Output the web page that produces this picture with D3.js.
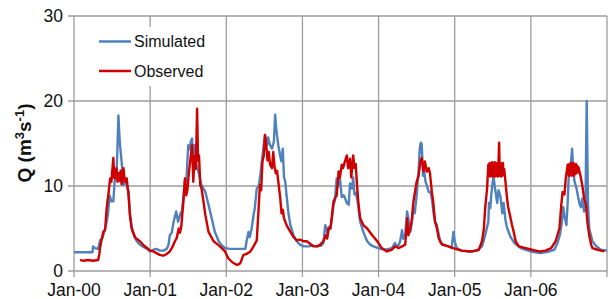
<!DOCTYPE html>
<html><head><meta charset="utf-8">
<script src="https://cdn.jsdelivr.net/npm/d3@7"></script>
<style>body{margin:0;background:#fff}svg{display:block}text{font-family:"Liberation Sans",Arial,Helvetica,sans-serif}</style>
</head><body><svg id="c" width="610" height="299"></svg>
<script>
// months since Jan 2000
const yTicks=[0,10,20,30];
const xTickMonths=[0,12,24,36,48,60,72];
const xTickLabels=["Jan-00","Jan-01","Jan-02","Jan-03","Jan-04","Jan-05","Jan-06"];
const gridMonths=[0,12,24,36,48,60,72,84];
const seriesNames=["Simulated","Observed"];
const seriesColors=["#4f81bd","#d00000"];
const simM=[0,1,2,2.9,3.0,3.3,3.8,4.1,4.5,4.9,5.15,5.4,5.6,5.9,6.2,6.4,6.7,6.85,7.0,7.15,7.25,7.5,7.8,8.1,8.4,8.6,8.8,9.1,9.6,10.0,10.4,11.0,11.5,12.0,12.5,13.0,13.5,14.1,14.6,14.9,15.1,15.4,15.7,16.1,16.4,16.8,17.0,17.3,17.5,17.7,18.0,18.2,18.4,18.6,18.8,19.0,19.3,19.6,20.1,20.7,21.2,21.7,22.2,22.8,23.3,23.8,24.5,25.4,26.2,27.0,27.2,27.5,27.7,28.0,28.3,28.5,28.8,29.1,29.4,29.6,29.9,30.1,30.4,30.6,30.9,31.2,31.5,31.7,31.9,32.2,32.5,32.7,32.9,33.1,33.3,33.5,33.8,34.1,34.6,35.1,35.6,36.2,37.0,37.5,38.3,39.0,39.3,39.6,39.8,40.0,40.2,40.4,40.6,40.9,41.1,41.4,41.6,41.9,42.2,42.5,42.7,43.0,43.3,43.5,43.8,44.0,44.2,44.4,44.7,45.1,45.6,46.2,46.7,47.2,48.3,49.1,50.1,50.6,50.8,51.2,51.4,51.7,51.9,52.2,52.5,52.7,53.0,53.3,53.5,53.7,54.0,54.3,54.5,54.65,54.8,55.0,55.2,55.4,55.6,55.9,56.2,56.4,56.7,56.9,57.2,57.5,57.8,58.3,59.0,59.5,59.8,60.0,60.3,61.1,62.0,62.7,63.5,64.3,64.8,65.3,65.4,65.6,65.8,66.1,66.4,66.7,66.9,67.2,67.5,67.7,68.0,68.2,68.8,69.4,70.4,71.2,72.0,73.5,74.9,75.7,76.2,76.6,76.9,77.1,77.3,77.6,77.8,78.0,78.3,78.5,78.7,78.9,79.2,79.4,79.7,79.9,80.1,80.4,80.6,80.8,81.0,81.2,81.7,82.2,83.0,84.0];
const simQ=[2.2,2.2,2.2,2.2,2.9,2.7,2.6,3.6,3.9,5.0,5.8,7.0,8.9,8.2,8.2,10.5,11.3,14.5,18.3,16.0,14.8,12.9,10.1,10.7,9.8,9.3,7.0,5.0,3.9,3.4,3.1,2.8,2.6,2.3,2.5,2.6,2.4,2.4,2.6,3.1,4.2,4.5,5.8,7.0,5.8,6.8,7.0,9.0,10.9,10.5,14.8,14.3,15.2,15.6,12.9,14.8,12.5,11.7,10.1,9.3,7.8,6.2,4.6,3.5,3.0,2.7,2.6,2.6,2.6,2.6,3.5,4.6,4.0,5.0,6.6,7.4,9.7,9.9,11.5,12.9,14.8,16.0,14.8,15.7,14.8,14.4,15.2,18.4,16.5,14.8,13.5,12.9,14.4,11.0,10.5,8.9,6.8,5.4,4.2,3.5,3.1,2.9,2.9,3.0,2.9,3.0,3.3,5.4,5.0,4.2,5.2,5.0,5.8,7.8,8.2,10.9,9.9,11.0,8.7,8.9,8.6,8.0,7.8,10.3,9.7,11.0,9.0,9.2,8.2,5.8,4.6,3.5,3.1,2.9,2.6,2.5,2.7,3.3,2.9,3.1,3.5,4.8,3.8,4.2,7.0,6.2,4.6,6.0,7.4,6.8,8.9,11.7,14.5,15.1,14.9,11.2,11.7,10.5,10.1,9.3,9.3,8.5,6.6,5.8,5.4,4.2,3.3,3.1,2.9,2.7,4.6,3.5,2.7,2.4,2.3,2.3,2.4,2.9,4.2,5.8,8.0,7.4,9.3,11.1,9.5,8.0,9.5,8.8,6.8,8.0,6.0,5.2,4.0,3.3,2.7,2.5,2.3,2.1,2.3,2.5,3.3,4.3,5.8,7.5,6.5,5.4,8.0,11.7,12.5,14.4,11.5,10.5,9.7,8.9,7.8,7.5,8.5,7.0,7.2,20.0,8.0,5.0,3.5,3.0,2.5,2.4];
const obsM=[0.95,1.5,2.2,3.0,3.8,4.0,4.1,4.3,4.5,4.6,4.9,5.15,5.4,5.7,5.9,6.0,6.2,6.35,6.5,6.7,6.85,7.0,7.2,7.35,7.5,7.65,7.8,8.0,8.3,8.6,8.8,9.1,9.6,10.0,10.4,11.0,11.5,12.0,12.5,13.0,13.5,14.1,14.6,15.1,15.5,15.9,16.2,16.5,16.7,16.9,17.2,17.5,17.7,17.9,18.1,18.3,18.6,18.8,19.0,19.2,19.4,19.55,19.7,19.9,20.1,20.4,20.7,21.2,22.0,23.0,23.8,24.3,25.0,25.7,26.2,26.7,27.2,27.8,28.3,28.8,29.1,29.3,29.5,29.7,29.9,30.1,30.3,30.5,30.7,30.9,31.2,31.4,31.6,31.8,32.0,32.2,32.5,32.7,32.9,33.1,33.5,34.1,34.6,35.1,35.6,36.2,36.7,37.2,37.7,38.3,38.8,39.3,39.7,39.9,40.1,40.4,40.6,40.9,41.1,41.4,41.7,41.9,42.2,42.4,42.7,43.0,43.2,43.5,43.7,44.0,44.2,44.4,44.6,44.8,45.1,45.6,46.2,47.0,47.8,48.5,49.3,50.1,50.6,51.2,51.7,52.2,52.5,52.7,53.0,53.2,53.5,54.0,54.3,54.6,54.8,55.1,55.3,55.6,55.9,56.1,56.4,56.6,56.9,57.2,57.5,58.0,59.0,60.1,61.1,62.7,63.8,64.3,64.6,64.8,65.1,65.3,65.4,65.5,65.6,65.7,65.8,65.9,66.0,66.1,66.2,66.3,66.4,66.5,66.6,66.7,66.8,66.9,67.0,67.1,67.2,67.3,67.4,67.5,67.6,67.7,67.8,68.0,68.2,68.4,68.7,69.0,69.3,69.6,70.1,71.2,72.2,73.3,74.3,75.2,75.9,76.5,76.8,77.0,77.3,77.5,77.8,78.0,78.1,78.2,78.3,78.4,78.5,78.6,78.7,78.8,78.9,79.0,79.1,79.2,79.3,79.4,79.5,79.6,79.8,80.1,80.4,80.7,80.9,81.2,81.5,81.7,82.5,83.6,84.0];
const obsQ=[1.3,1.2,1.3,1.2,1.3,2.0,2.7,3.5,4.2,4.6,4.8,7.4,8.9,10.9,10.5,11.5,13.3,10.9,11.0,12.1,10.5,11.5,10.6,11.8,10.2,11.2,12.1,10.5,10.9,8.9,6.6,5.0,4.0,3.7,3.5,3.0,2.7,2.4,2.3,2.1,1.9,1.8,2.0,2.3,2.8,3.5,3.9,5.0,4.5,5.2,7.8,10.9,8.9,9.7,11.5,12.9,14.8,10.5,13.5,12.0,19.1,13.0,13.6,10.1,9.7,8.2,6.6,4.6,3.5,2.9,2.3,1.5,1.0,0.7,0.9,1.9,2.0,2.3,2.9,3.6,7.4,10.1,9.5,12.9,13.5,16.0,14.8,13.0,14.0,12.5,12.1,14.0,12.3,11.5,11.8,10.5,8.6,6.8,7.2,6.2,5.4,4.6,4.0,3.6,3.7,3.5,3.5,3.2,2.9,2.9,3.1,3.5,4.2,3.8,5.0,5.0,6.2,8.2,8.5,8.9,11.7,11.0,12.5,12.1,12.9,13.6,12.1,13.2,11.0,13.6,12.1,12.6,10.1,8.2,6.2,5.4,5.0,4.2,3.5,2.7,2.3,2.5,2.9,2.7,2.9,3.1,6.2,4.2,5.0,5.8,8.2,10.5,11.2,12.9,13.3,11.7,12.9,11.7,12.1,11.5,9.3,8.2,5.8,5.0,3.8,3.1,2.9,2.6,2.4,2.3,2.5,3.5,5.0,7.4,9.7,12.5,11.2,12.7,11.1,12.6,11.2,12.8,11.1,12.6,11.2,12.8,11.1,12.7,11.2,12.6,11.1,12.8,15.1,11.2,12.7,11.1,12.6,11.2,12.7,11.3,12.0,10.5,8.9,7.6,6.6,5.5,4.6,3.5,2.9,2.7,2.5,2.3,2.4,2.7,3.5,5.0,7.8,9.3,9.0,10.9,12.5,11.2,12.6,11.3,12.7,11.2,12.6,11.3,12.7,11.2,12.5,11.4,12.6,11.5,12.4,11.6,12.2,11.9,11.3,10.1,8.5,7.8,5.8,4.2,3.1,2.7,2.5,2.3];

const svg=d3.select("#c");
const x=d3.scaleLinear().domain([0,84]).range([74,607]);
const y=d3.scaleLinear().domain([0,30]).range([271,16]);
const gridCol="#9c9c9c";

svg.append("g").selectAll("line").data(yTicks).join("line")
  .attr("x1",68).attr("x2",x(84)).attr("y1",d=>y(d)).attr("y2",d=>y(d))
  .attr("stroke",gridCol).attr("stroke-width",1.3);
svg.append("g").selectAll("line").data(gridMonths).join("line")
  .attr("x1",d=>x(d)).attr("x2",d=>x(d)).attr("y1",y(30)).attr("y2",y(0)+6)
  .attr("stroke",gridCol).attr("stroke-width",1.3);

svg.append("g").selectAll("text").data(yTicks).join("text")
  .attr("x",63).attr("y",d=>y(d)).attr("dy","0.35em").attr("text-anchor","end")
  .attr("font-size",17.5).attr("fill","#111").text(d=>d);
svg.append("g").selectAll("text").data(xTickMonths).join("text")
  .attr("x",d=>x(d)).attr("y",296).attr("text-anchor","middle")
  .attr("font-size",17.5).attr("fill","#111").text((d,i)=>xTickLabels[i]);

const yl=svg.append("text").attr("transform","translate(31,143) rotate(-90)")
  .attr("text-anchor","middle").attr("font-size",19).attr("font-weight","bold").attr("fill","#111");
yl.append("tspan").text("Q (m");
yl.append("tspan").attr("font-size",13).attr("dy",-7).text("3");
yl.append("tspan").attr("dy",7).text("s");
yl.append("tspan").attr("font-size",13).attr("dy",-7).text("-1");
yl.append("tspan").attr("dy",7).text(")");

const line=d3.line().x(d=>x(d[0])).y(d=>y(d[1]));
const simData=simM.map((m,i)=>[m,simQ[i]]);
const obsData=obsM.map((m,i)=>[m,obsQ[i]]);
svg.append("path").datum(simData).attr("d",line).attr("fill","none")
  .attr("stroke",seriesColors[0]).attr("stroke-width",2.4).attr("stroke-linejoin","round");
svg.append("path").datum(obsData).attr("d",line).attr("fill","none")
  .attr("stroke",seriesColors[1]).attr("stroke-width",2.4).attr("stroke-linejoin","round");

svg.append("rect").attr("x",88).attr("y",27).attr("width",130).attr("height",59).attr("fill","#fff");
const lg=svg.append("g").selectAll("g").data(seriesNames).join("g")
  .attr("transform",(d,i)=>`translate(99,${41.5+i*29.5})`);
lg.append("line").attr("x1",0).attr("x2",32).attr("stroke",(d,i)=>seriesColors[i]).attr("stroke-width",2.5);
lg.append("text").attr("x",35).attr("dy","0.35em").attr("font-size",16).attr("fill","#111").text(d=>d);
</script></body></html>
